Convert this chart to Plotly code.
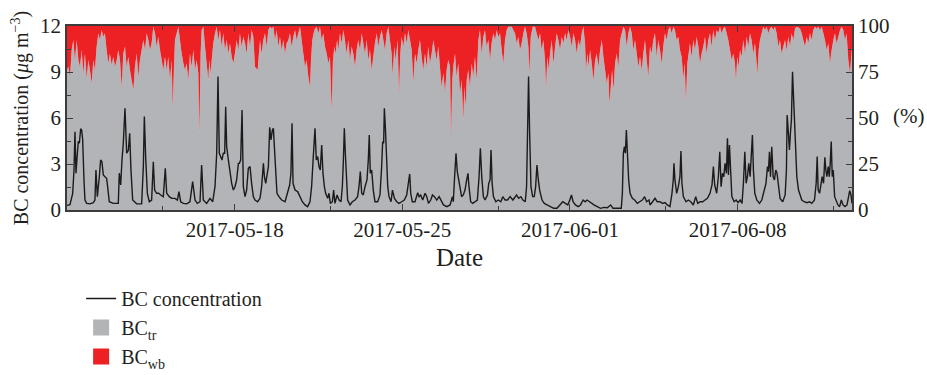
import plotly.graph_objects as go
import pandas as pd

# ---------------- data ----------------
start = pd.Timestamp("2017-05-11 00:00")
x_end_hours = 786.6

# BC concentration (ug m-3): hours since 2017-05-11 00:00, value
bc_hours = [
    0.0, 3.0, 5.7, 7.0, 8.0, 9.0, 10.4, 11.4, 12.4, 13.7, 14.7, 15.7, 17.0, 18.0, 19.7, 23.0,
    26.4, 28.0, 29.0, 30.4, 32.4, 33.7, 35.0, 36.4, 38.0, 39.7, 40.7, 42.4, 46.4, 51.4, 52.4, 53.8,
    55.1, 56.4, 58.1, 59.8, 61.5, 62.8, 64.1, 65.8, 69.8, 74.8, 76.5, 77.5, 78.8, 80.5, 82.5, 84.8,
    86.5, 87.8, 89.8, 91.8, 93.9, 96.5, 98.5, 99.9, 102.5, 104.9, 108.2, 110.6, 112.2, 113.9, 116.6, 119.9,
    123.2, 125.9, 128.3, 130.6, 133.3, 134.9, 136.6, 139.9, 143.3, 146.0, 148.3, 150.0, 151.3, 152.6, 154.0, 155.3,
    156.6, 158.0, 159.0, 160.0, 161.7, 163.3, 165.0, 166.7, 168.3, 170.0, 171.7, 172.7, 174.0, 175.4, 176.7, 178.4,
    180.0, 181.7, 183.4, 185.0, 186.7,
    188.4, 191.0, 193.4, 195.0, 196.8, 197.8, 199.1, 200.4, 201.8, 203.1, 204.4, 205.8, 206.8, 207.8, 209.1, 210.4,
    212.4, 215.1, 218.5, 221.1, 223.1, 224.4, 225.5, 226.5, 228.5, 231.1, 233.5, 235.8, 238.5, 241.1, 243.5, 245.1,
    246.8, 248.5, 249.8, 251.2, 252.5, 253.8, 255.2, 256.5, 257.9, 259.2, 261.2, 262.5, 263.9, 265.9, 267.2, 268.5,
    270.6, 272.6, 274.6, 275.9, 276.9, 277.9, 278.9, 279.9, 281.2, 283.6, 285.9, 288.6, 291.2, 292.6, 293.9, 295.3,
    296.9, 298.6, 300.6, 301.9, 302.9, 303.9, 305.3, 306.9, 308.6, 311.3, 313.6, 315.3, 316.3, 317.3, 318.0, 319.0,
    320.0, 321.4, 322.7, 324.7, 326.1, 328.1, 330.4, 332.7, 335.4, 338.0, 340.4, 342.0, 343.4, 344.4, 346.0, 348.7,
    351.4, 352.8, 354.4, 356.4, 358.8, 360.5, 362.2, 364.5, 366.2, 368.2, 370.5, 372.9, 374.9, 377.2, 380.6, 383.9,
    386.2,
    387.1, 388.4, 389.8, 391.1, 392.4, 393.8, 395.4, 397.1, 398.8, 400.5, 401.8, 402.8, 404.5, 406.5, 408.8, 411.2,
    412.9, 414.2, 415.6, 417.2, 418.9, 421.3, 422.6, 423.9, 424.9, 426.0, 427.3, 429.7, 432.2, 434.7, 436.7, 439.0,
    441.4, 444.0, 446.8, 449.1, 450.5, 452.5, 454.8, 456.8, 459.2, 460.5, 461.5, 462.5, 463.5, 464.9, 466.6, 468.2,
    469.6, 470.9, 472.3, 473.6, 476.0, 478.3, 481.0, 484.3, 487.7, 491.0, 494.4, 496.8, 499.4, 501.8, 503.8, 505.5,
    507.1, 509.5, 512.2, 514.5, 517.2, 519.2, 521.2, 523.3, 525.3, 528.0, 531.3, 534.7, 538.1, 541.4, 544.8, 547.1,
    549.8, 553.1, 555.4, 556.5, 557.5, 558.5, 559.5, 560.5, 561.5, 562.8, 564.2, 566.5, 568.8, 571.5, 573.8, 576.5,
    578.8, 580.8, 583.2,
    584.2, 586.8, 589.2, 591.5, 594.2, 596.8, 599.2, 601.5, 604.2, 606.2, 607.5, 608.2, 609.2, 610.9, 612.6, 614.2,
    615.2, 616.2, 617.6, 620.3, 622.6, 625.0, 627.6, 630.0, 632.0, 634.4, 637.0, 639.3, 641.7, 644.3, 646.3, 647.7,
    649.0, 651.0, 652.7, 654.1, 655.4, 656.8, 658.1, 659.4, 660.8, 661.8, 662.8, 663.8, 664.8, 666.2, 668.5, 670.5,
    672.5, 674.5, 676.4, 677.8, 679.2, 680.5, 681.8, 683.2, 684.5, 685.8, 686.8, 687.8, 689.2, 691.2, 693.9, 696.2,
    698.5, 700.4, 701.9, 702.8, 703.9, 704.9, 706.2, 707.6, 708.9, 710.2, 711.5, 712.9, 714.5, 717.2, 719.6, 720.9,
    721.6, 722.9, 723.9, 724.9, 725.9, 727.0, 728.0, 729.0, 730.0, 731.3, 733.0, 734.7, 736.3, 738.7, 741.3, 744.0,
    746.3, 749.0, 750.7, 751.7, 752.7, 754.1, 755.4, 756.7, 758.1, 759.4, 760.4, 761.4, 762.8, 763.8, 764.8, 765.8,
    766.8, 767.8, 769.2, 770.9, 772.5, 774.2, 775.9, 777.6, 779.6, 781.6, 783.3, 784.3, 785.6, 786.6,
]
bc_values = [
    0.30, 0.35, 1.09, 2.60, 5.10, 2.40, 3.70, 4.50, 4.35, 5.30, 5.20, 4.60, 1.96, 0.65, 0.43, 0.40,
    0.48, 0.65, 2.60, 0.87, 2.17, 3.26, 3.15, 2.28, 2.17, 2.07, 1.52, 0.54, 0.43, 0.43, 2.40, 1.63,
    3.26, 4.35, 6.63, 3.70, 3.90, 5.00, 2.60, 0.65, 0.40, 0.40, 2.83, 6.10, 3.48, 1.09, 0.54, 0.65,
    3.15, 1.30, 1.09, 1.09, 0.98, 0.87, 2.72, 1.09, 0.87, 0.76, 0.76, 0.65, 1.20, 0.54, 0.43, 0.40,
    0.54, 1.85, 0.65, 0.43, 0.54, 2.93, 0.65, 0.43, 0.76, 0.54, 1.52, 3.70, 8.70, 3.70, 3.48, 3.26,
    3.70, 3.70, 6.74, 4.13, 3.26, 2.39, 1.74, 1.30, 1.52, 1.96, 3.04, 3.04, 3.26, 6.52, 1.52, 0.87,
    1.30, 2.72, 2.83, 1.74, 0.87,
    0.65, 0.54, 0.76, 1.52, 3.04, 2.17, 1.74, 2.40, 2.83, 5.39, 4.57, 5.22, 5.33, 4.13, 2.17, 1.09,
    0.87, 0.65, 0.54, 1.09, 1.63, 2.39, 5.65, 1.74, 1.30, 1.20, 0.87, 0.54, 0.33, 0.22, 0.54, 1.52,
    3.48, 5.33, 3.26, 3.48, 2.83, 2.61, 4.24, 2.39, 1.52, 1.09, 0.76, 1.09, 0.43, 0.54, 1.30, 0.43,
    0.98, 0.65, 0.54, 1.52, 3.15, 5.33, 3.70, 1.74, 0.65, 0.33, 0.54, 0.65, 0.87, 1.52, 2.50, 1.09,
    0.98, 1.52, 1.96, 3.26, 4.89, 2.39, 2.61, 1.30, 0.54, 0.54, 0.98, 2.83, 4.46, 4.35, 6.63, 5.43,
    3.26, 1.52, 0.87, 0.54, 1.30, 0.76, 0.54, 0.43, 0.54, 0.65, 0.98, 1.74, 2.35, 1.09, 0.54, 0.54,
    1.13, 0.87, 0.98, 0.65, 1.09, 0.87, 0.43, 0.65, 0.98, 0.87, 0.65, 0.87, 0.65, 0.33, 0.22, 0.33,
    0.87,
    0.54, 2.17, 3.70, 2.50, 1.96, 1.52, 0.87, 0.98, 1.30, 1.96, 2.39, 1.52, 0.54, 0.43, 0.54, 0.65,
    2.17, 4.02, 2.17, 0.87, 0.65, 0.98, 1.74, 1.96, 3.91, 1.74, 0.87, 0.54, 0.65, 0.54, 0.87, 0.65,
    0.65, 0.87, 0.65, 0.87, 0.98, 0.76, 0.87, 0.65, 0.54, 1.52, 5.87, 8.70, 5.22, 1.52, 0.87, 0.87,
    1.52, 2.93, 1.96, 1.30, 0.65, 0.43, 0.33, 0.22, 0.11, 0.11, 0.33, 0.54, 0.43, 0.33, 0.65, 0.98,
    0.54, 0.33, 0.22, 0.33, 0.65, 0.54, 0.65, 0.54, 0.48, 0.33, 0.22, 0.11, 0.17, 0.15, 0.33, 0.11,
    0.11, 0.11, 0.11, 1.09, 3.70, 4.13, 3.70, 5.22, 3.26, 1.96, 1.09, 0.76, 0.65, 0.43, 0.54, 0.65,
    0.87, 0.54, 0.65,
    0.33, 0.54, 0.76, 0.54, 0.54, 0.43, 0.48, 0.33, 0.22, 1.09, 1.96, 3.04, 1.96, 1.09, 1.52, 2.17,
    3.85, 1.74, 0.87, 0.54, 0.65, 0.54, 0.33, 0.87, 0.43, 0.54, 0.54, 0.65, 0.76, 1.09, 1.63, 2.83,
    1.63, 1.09, 2.17, 3.80, 1.52, 2.39, 2.17, 3.04, 2.39, 4.67, 2.28, 4.24, 2.61, 0.87, 0.54, 0.65,
    0.48, 0.65, 0.43, 1.74, 3.80, 1.74, 2.17, 3.04, 2.17, 3.70, 4.89, 2.61, 1.09, 0.65, 0.43, 0.65,
    1.30, 1.74, 2.83, 2.50, 3.80, 2.17, 4.13, 2.17, 1.96, 2.61, 2.39, 1.52, 0.76, 0.54, 0.98, 2.61,
    6.20, 5.00, 3.91, 5.00, 5.87, 9.02, 7.39, 5.43, 3.70, 2.17, 1.30, 0.87, 0.65, 0.54, 0.48, 0.54,
    0.43, 0.65, 1.74, 3.48, 1.30, 1.09, 1.52, 2.17, 1.74, 3.43, 2.61, 2.17, 2.83, 2.17, 3.04, 4.46,
    2.17, 2.61, 0.87, 0.54, 0.33, 0.22, 0.65, 0.33, 0.22, 0.33, 0.87, 1.26, 0.98, 0.43,
]

# BC_wb share (%) : hours since 2017-05-11 00:00, value ; BC_tr = 100 - BC_wb
wb_hours = [
    0.0, 1.3, 3.0, 4.7, 6.3, 8.0, 9.7, 11.4, 13.0, 14.7, 16.4, 18.0, 19.7, 21.4, 23.0, 24.7,
    26.4, 28.0, 29.7, 31.4, 33.0, 34.7, 36.4, 38.0, 39.7, 41.4, 43.0, 44.8, 46.4, 48.1, 49.8, 51.4,
    53.1, 54.8, 56.4, 58.1, 59.8, 61.5, 63.1, 64.8, 66.5, 68.1, 69.8, 71.5, 73.1, 74.8, 76.5, 78.2,
    79.8, 81.5, 83.2, 84.8, 86.5, 88.2, 89.8, 91.5, 93.2, 94.9, 96.5, 98.2, 99.9, 101.5, 103.2, 104.9,
    105.9, 107.2, 108.2, 109.9, 111.6, 113.2, 114.9, 116.6, 118.2, 119.9, 121.6, 123.2, 124.9, 126.6, 128.3, 129.9,
    131.6, 132.6, 133.9, 134.9, 136.6, 138.3, 139.9, 141.6, 142.6, 144.0, 145.3, 146.6, 148.3, 150.0, 151.6, 153.3,
    155.0, 156.6, 158.3, 160.0, 161.7, 163.3, 165.0, 166.7, 168.3, 170.0, 171.7, 173.3, 175.0, 176.7, 178.4, 180.0,
    181.7, 183.4, 185.0, 186.7,
    188.4, 191.0, 193.4, 195.0, 196.7, 198.4, 200.1, 201.7, 203.4, 205.1, 206.8, 208.4, 210.1, 211.8, 213.4, 215.1,
    216.8, 218.4, 220.1, 221.8, 223.4, 225.1, 226.8, 228.5, 230.1, 231.8, 233.5, 235.1, 236.8, 238.5, 240.1, 241.8,
    243.5, 244.5, 245.8, 247.8, 250.2, 251.8, 253.5, 255.2, 256.8, 258.5, 260.2, 261.8, 263.5, 265.2, 266.5, 267.9,
    269.2, 270.6, 271.9, 273.5, 275.2, 276.9, 278.5, 280.2, 281.9, 283.6, 285.2, 286.9, 288.6, 290.2, 291.9, 293.6,
    295.3, 296.9, 298.6, 300.3, 301.9, 303.6, 305.3, 306.9, 308.6, 310.3, 312.0, 313.6, 315.3, 317.0, 318.6, 320.3,
    322.0, 323.6, 325.3, 326.3, 328.0, 329.3, 331.3, 332.7, 334.0, 335.3, 337.0, 338.7, 340.4, 342.0, 343.7, 345.4,
    347.0, 348.7, 350.4, 352.0, 353.7, 355.4, 357.0, 358.7, 360.4, 362.0, 363.7, 365.4, 367.1, 368.7, 370.4, 372.1,
    373.7, 375.4, 377.1, 378.8, 380.4, 382.1, 383.8, 384.8, 386.1,
    387.1, 388.8, 390.4, 392.1, 393.8, 395.5, 397.1, 398.1, 399.5, 400.5, 402.1, 403.8, 405.5, 407.1, 408.8, 410.5,
    412.2, 413.8, 415.5, 417.2, 418.8, 420.5, 422.2, 423.9, 425.5, 427.2, 428.9, 430.5, 432.2, 433.9, 435.6, 437.2,
    438.9, 440.6, 442.2, 445.6, 448.9, 450.6, 452.3, 453.9, 455.6, 457.3, 458.9, 460.6, 462.3, 463.3, 464.7, 466.7,
    469.0, 470.6, 472.3, 474.0, 475.6, 477.3, 479.0, 480.0, 481.4, 482.7, 484.0, 485.7, 487.4, 489.1, 490.7, 492.4,
    494.1, 495.7, 497.4, 499.1, 500.7, 502.4, 504.1, 505.8, 507.4, 509.1, 510.8, 512.4, 514.1, 515.8, 517.4, 519.1,
    520.1, 521.5, 522.5, 524.2, 525.8, 527.5, 529.2, 530.8, 532.5, 534.2, 535.9, 537.5, 539.2, 540.9, 542.5, 543.5,
    544.9, 546.2, 547.6, 549.2, 550.8, 552.5, 554.2, 555.9, 557.5, 559.2, 560.9, 562.5, 564.2, 565.9, 567.5, 569.2,
    570.9, 572.5, 574.2, 575.9, 577.5, 579.2, 580.9, 582.5,
    584.2, 585.8, 587.5, 589.2, 590.9, 592.5, 594.2, 595.9, 597.5, 599.2, 600.9, 602.5, 604.2, 605.9, 607.6, 609.2,
    610.9, 612.6, 614.2, 615.9, 617.6, 618.9, 620.2, 621.6, 622.9, 624.2, 625.9, 627.6, 629.3, 630.9, 632.6, 634.3,
    635.9, 637.6, 639.3, 640.9, 642.6, 644.3, 645.9, 647.6, 649.3, 651.0, 652.6, 654.3, 656.0, 657.6, 659.3, 661.0,
    662.6, 664.3, 666.0, 667.7, 669.3, 670.3, 671.7, 673.0, 674.4, 676.0, 677.7, 679.4, 681.0, 682.7, 684.4, 686.0,
    687.7, 689.4, 691.1, 691.7, 693.1, 694.4, 696.1, 697.7, 699.4, 701.1, 702.7, 704.4, 706.1, 707.8, 709.4, 711.1,
    712.8, 714.4, 716.1, 717.8, 719.5, 721.1, 722.8, 724.5, 726.1, 727.8, 729.5, 731.1, 734.5, 736.2, 737.8, 739.5,
    741.2, 742.8, 744.5, 746.2, 747.8, 749.5, 751.2, 752.8, 754.5, 756.2, 757.9, 759.5, 761.2, 762.9, 764.5, 766.2,
    767.9, 769.5, 771.2, 772.9, 774.6, 776.2, 777.9, 779.6, 781.2, 782.9, 784.6, 786.6,
]
wb_pct = [
    24.0, 22.0, 27.5, 13.0, 7.6, 18.5, 7.6, 18.5, 22.0, 13.0, 25.7, 14.9, 28.4, 18.5, 24.0, 31.0,
    18.5, 24.0, 11.2, 4.0, 7.6, 2.2, 5.8, 4.0, 13.0, 20.3, 14.9, 21.2, 16.7, 22.1, 18.5, 13.0,
    18.5, 33.0, 14.9, 11.2, 22.1, 16.7, 23.9, 29.3, 34.8, 22.1, 14.9, 27.5, 18.5, 13.0, 7.6, 13.0,
    4.0, 7.6, 13.0, 9.4, 0.4, 4.0, 11.2, 5.8, 13.0, 18.5, 23.9, 16.7, 23.9, 16.7, 29.3, 18.5,
    44.7, 22.1, 7.6, 4.0, 0.4, 7.6, 14.9, 20.3, 23.9, 20.3, 29.3, 14.9, 22.1, 13.0, 23.9, 18.5,
    25.7, 58.3, 14.9, 2.2, 0.4, 11.2, 20.3, 29.3, 18.5, 25.7, 16.7, 9.4, 4.0, 0.4, 7.6, 2.2,
    11.2, 4.0, 13.0, 7.6, 14.9, 9.4, 16.7, 20.3, 14.9, 7.6, 13.0, 4.0, 11.2, 5.8, 9.4, 14.9,
    4.0, 11.2, 2.2, 5.8,
    22.1, 23.9, 7.6, 14.9, 7.6, 4.0, 11.2, 2.2, 0.4, 1.3, 0.4, 7.6, 2.2, 11.2, 5.8, 13.0,
    7.6, 14.9, 9.4, 7.6, 4.0, 11.2, 5.8, 2.2, 7.6, 4.0, 0.4, 7.6, 14.9, 22.1, 18.5, 27.5,
    33.0, 18.5, 7.6, 2.2, 0.4, 4.0, 0.4, 7.6, 4.0, 11.2, 14.9, 20.3, 16.7, 45.7, 18.5, 11.2,
    14.9, 7.6, 13.0, 4.0, 9.4, 2.2, 7.6, 14.9, 7.6, 18.5, 11.2, 14.9, 22.1, 13.0, 7.6, 13.0,
    4.0, 9.4, 14.9, 7.6, 18.5, 13.0, 23.9, 16.7, 9.4, 4.0, 11.2, 5.8, 2.2, 7.6, 13.0, 4.0,
    0.4, 7.6, 14.9, 26.6, 11.2, 18.5, 7.6, 36.6, 14.9, 5.8, 11.2, 4.0, 9.4, 2.2, 7.6, 13.0,
    30.3, 14.9, 20.3, 13.0, 7.6, 16.7, 23.9, 14.9, 22.1, 11.2, 20.3, 14.9, 7.6, 13.0, 18.5, 11.2,
    22.1, 33.0, 25.7, 35.7, 23.9, 18.5, 22.1, 60.0, 29.3,
    22.1, 14.9, 27.5, 20.3, 36.6, 29.3, 51.1, 33.0, 43.8, 29.3, 23.9, 33.0, 20.3, 27.5, 16.7, 29.3,
    7.6, 2.2, 14.9, 5.8, 2.2, 11.2, 7.6, 18.5, 9.4, 4.0, 7.6, 2.2, 5.8, 4.0, 13.0, 20.3,
    7.6, 2.2, 0.4, 0.4, 4.0, 9.4, 5.8, 13.0, 9.4, 4.0, 0.4, 4.0, 11.2, 25.7, 5.8, 0.4,
    0.4, 4.0, 7.6, 4.0, 13.0, 7.6, 18.5, 33.0, 16.7, 23.9, 14.9, 7.6, 20.3, 11.2, 4.0, 7.6,
    13.0, 5.8, 9.4, 4.0, 7.6, 2.2, 5.8, 11.2, 4.0, 7.6, 14.9, 7.6, 11.2, 4.0, 0.4, 9.4,
    23.9, 14.9, 22.1, 13.0, 20.3, 29.3, 18.5, 14.9, 22.1, 13.0, 7.6, 16.7, 23.9, 31.2, 25.7, 42.0,
    33.0, 23.9, 34.8, 20.3, 14.9, 22.1, 7.6, 4.0, 0.4, 2.2, 11.2, 4.0, 0.4, 4.0, 13.0, 7.6,
    14.9, 22.1, 16.7, 23.9, 14.9, 7.6, 18.5, 27.5,
    11.2, 14.9, 7.6, 4.0, 16.7, 7.6, 13.0, 20.3, 11.2, 4.0, 7.6, 2.2, 0.4, 4.0, 0.4, 2.2,
    7.6, 5.8, 13.0, 16.7, 28.4, 20.3, 40.2, 20.3, 14.9, 9.4, 16.7, 7.6, 13.0, 5.8, 11.2, 20.3,
    14.9, 11.2, 5.8, 14.9, 7.6, 4.0, 11.2, 2.2, 7.6, 2.2, 4.0, 0.4, 4.0, 1.3, 0.4, 4.0,
    7.6, 13.0, 18.5, 14.9, 20.3, 29.3, 16.7, 22.1, 13.0, 16.7, 7.6, 14.9, 5.8, 11.2, 4.0, 7.6,
    14.9, 9.4, 20.3, 26.6, 13.0, 7.6, 4.0, 0.4, 2.2, 0.4, 4.0, 1.3, 0.4, 2.2, 0.4, 4.0,
    11.2, 7.6, 14.9, 11.2, 7.6, 13.0, 5.8, 11.2, 4.0, 7.6, 1.3, 0.4, 1.3, 4.0, 7.6, 11.2,
    5.8, 9.4, 4.0, 7.6, 2.2, 0.4, 1.3, 0.4, 2.2, 0.4, 4.0, 7.6, 13.0, 9.4, 20.3, 13.0,
    7.6, 4.0, 9.4, 5.8, 2.2, 0.4, 2.2, 7.6, 4.0, 18.5, 25.7, 11.2,
]
tr_pct = [100.0 - v for v in wb_pct]

major_dates = ["2017-05-18", "2017-05-25", "2017-06-01", "2017-06-08"]
minor_dates = ["2017-05-15", "2017-05-22", "2017-05-29", "2017-06-05", "2017-06-12"]
left_ticks = [0, 3, 6, 9, 12]
right_ticks = [0, 25, 50, 75, 100]

# ---------------- style ----------------
GRAY = "#b3b4b8"
RED = "#ed2024"
LINE = "#1c1a1a"
AXIS = "#3c3c3c"
TEXT = "#231f20"
FONT = "Liberation Serif"

bc_time = start + pd.to_timedelta(bc_hours, unit="h")
wb_time = start + pd.to_timedelta(wb_hours, unit="h")
x_end = start + pd.to_timedelta(x_end_hours, unit="h")

fig = go.Figure()
fig.add_trace(go.Scatter(x=wb_time, y=tr_pct, stackgroup="share", mode="none",
                         fillcolor=GRAY, showlegend=False, hoverinfo="skip", yaxis="y"))
fig.add_trace(go.Scatter(x=wb_time, y=wb_pct, stackgroup="share", mode="none",
                         fillcolor=RED, showlegend=False, hoverinfo="skip", yaxis="y"))
fig.add_trace(go.Scatter(x=bc_time, y=bc_values, mode="lines", name="BC concentration",
                         line=dict(color=LINE, width=1.4), yaxis="y2"))
fig.add_trace(go.Scatter(x=[None], y=[None], mode="markers", name="BC<sub>tr</sub>",
                         marker=dict(symbol="square", size=16, color=GRAY), yaxis="y2"))
fig.add_trace(go.Scatter(x=[None], y=[None], mode="markers", name="BC<sub>wb</sub>",
                         marker=dict(symbol="square", size=16, color=RED), yaxis="y2"))

fig.update_layout(
    width=927, height=375,
    margin=dict(l=67, r=75, t=26, b=165, autoexpand=False),
    paper_bgcolor="white", plot_bgcolor="white",
    font=dict(family=FONT, size=21, color=TEXT),
    showlegend=True,
    legend=dict(orientation="v", x=0.018, y=-0.375, xanchor="left", yanchor="top",
                traceorder="normal",
                bgcolor="rgba(0,0,0,0)", font=dict(family=FONT, size=20, color=TEXT),
                tracegroupgap=0, itemwidth=30),
    xaxis=dict(type="date", range=[start, x_end], tickmode="array",
               tickvals=major_dates, ticktext=major_dates,
               ticks="inside", ticklen=6, tickwidth=1.2, tickcolor=AXIS,
               minor=dict(tickmode="array", tickvals=minor_dates, ticks="inside",
                          ticklen=4, tickwidth=1.2, tickcolor=AXIS, showgrid=False),
               showline=True, linecolor=AXIS, linewidth=1.6, mirror="ticks",
               showgrid=False, zeroline=False,
               title=dict(text="Date", standoff=7)),
    yaxis=dict(range=[0, 100], side="right", tickmode="array", tickvals=right_ticks,
               ticks="inside", ticklen=6, tickwidth=1.2, tickcolor=AXIS,
               minor=dict(dtick=12.5, tick0=0, ticks="inside", ticklen=4,
                          tickwidth=1.2, tickcolor=AXIS, showgrid=False),
               showline=True, linecolor=AXIS, linewidth=1.6,
               showgrid=False, zeroline=False, fixedrange=True),
    yaxis2=dict(range=[0, 12], side="left", overlaying="y", anchor="x",
                tickmode="array", tickvals=left_ticks,
                ticks="inside", ticklen=6, tickwidth=1.2, tickcolor=AXIS,
                minor=dict(dtick=1.5, tick0=0, ticks="inside", ticklen=4,
                           tickwidth=1.2, tickcolor=AXIS, showgrid=False),
                showline=True, linecolor=AXIS, linewidth=1.6,
                showgrid=False, zeroline=False,
                title=dict(text="BC concentration (<i>μ</i>g m<sup>−3</sup>)", standoff=6,
                           font=dict(size=20))),
    annotations=[dict(text="(%)", xref="paper", yref="paper", x=1.0726, y=0.511,
                      xanchor="center", yanchor="middle", showarrow=False,
                      font=dict(family=FONT, size=21, color=TEXT))],
)

fig.write_html("out.html")
